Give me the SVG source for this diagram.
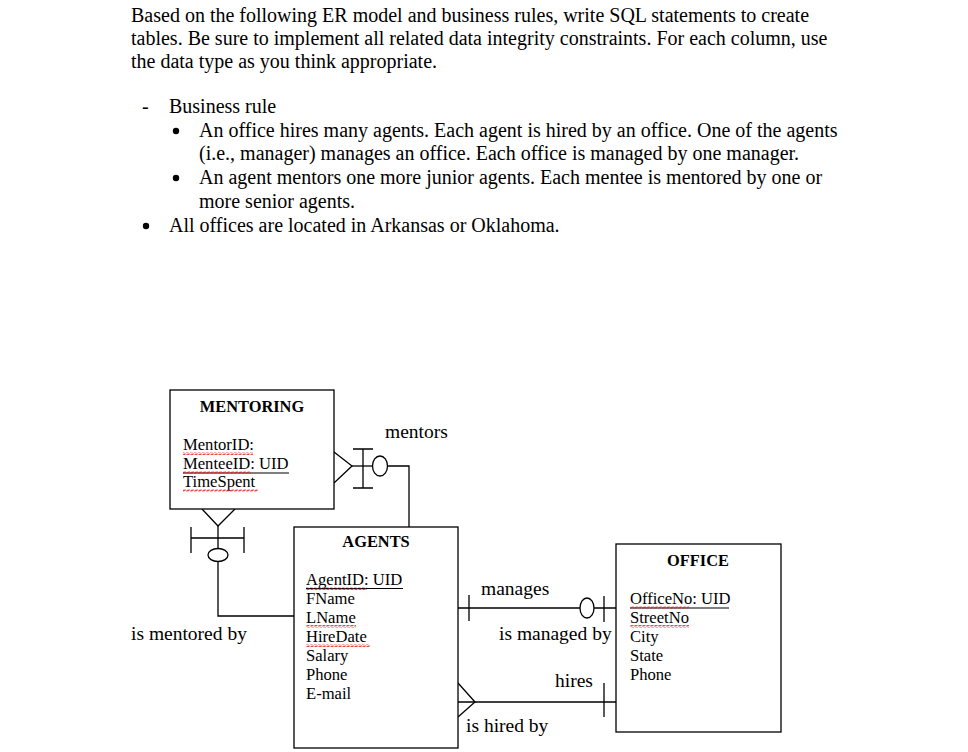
<svg xmlns="http://www.w3.org/2000/svg" width="968" height="752" viewBox="0 0 968 752">
<defs>
<style>
.t{font-family:"Liberation Serif","Times New Roman",serif;font-size:20px;fill:#000}
.lb{font-family:"Liberation Serif","Times New Roman",serif;font-size:19.5px;fill:#000}
.at{font-family:"Liberation Serif","Times New Roman",serif;font-size:16.6px;fill:#000}
.ti{font-family:"Liberation Serif","Times New Roman",serif;font-size:16.4px;font-weight:bold;fill:#000}
.box{fill:#fff;stroke:#000;stroke-width:1.3}
.ln{fill:none;stroke:#000;stroke-width:1.3}
.ul{stroke:#000;stroke-width:1.2}
.sq{fill:url(#wave)}
</style>
<pattern id="wave" x="0" y="0" width="4" height="3" patternUnits="userSpaceOnUse">
<path d="M0,2.5 L1,0.5 L3,2.5 L4,0.5" fill="none" stroke="#e02020" stroke-width="0.8"/>
</pattern>
</defs>
<rect width="968" height="752" fill="#fff"/>

<g id="text">
<text class="t" x="131" y="22">Based on the following ER model and business rules, write SQL statements to create</text>
<text class="t" x="131" y="45">tables. Be sure to implement all related data integrity constraints. For each column, use</text>
<text class="t" x="131" y="68">the data type as you think appropriate.</text>
<text class="t" x="142" y="113">-</text>
<text class="t" x="169" y="113">Business rule</text>
<circle cx="176" cy="131" r="3.2"/>
<text class="t" x="199" y="137">An office hires many agents. Each agent is hired by an office. One of the agents</text>
<text class="t" x="199" y="160">(i.e., manager) manages an office. Each office is managed by one manager.</text>
<circle cx="176" cy="178" r="3.2"/>
<text class="t" x="199" y="184">An agent mentors one more junior agents. Each mentee is mentored by one or</text>
<text class="t" x="199" y="208">more senior agents.</text>
<circle cx="146" cy="226" r="3.2"/>
<text class="t" x="169" y="232">All offices are located in Arkansas or Oklahoma.</text>
</g>

<g id="connectors">
<!-- mentors: MENTORING right -> AGENTS top -->
<path class="ln" d="M334,452 L352,466 L334,483"/>
<path class="ln" d="M352,466 L372.5,466"/>
<path class="ln" d="M363,449 V488 M353,449 H373 M353,488 H373"/>
<ellipse class="ln" cx="380" cy="466" rx="7.5" ry="10"/>
<path class="ln" d="M387.5,466 H409 V527"/>
<!-- is mentored by: MENTORING bottom -> AGENTS left -->
<path class="ln" d="M202,509 L218,526 L235,509"/>
<path class="ln" d="M218,526 V548.5"/>
<path class="ln" d="M191,538 H244 M191,527 V553 M244,527 V553"/>
<ellipse class="ln" cx="218" cy="555" rx="10" ry="6.5"/>
<path class="ln" d="M218,561.5 V616 H294"/>
<!-- manages -->
<path class="ln" d="M458,608 H580 M594,608 H616"/>
<path class="ln" d="M469,595 V621 M604,596 V622"/>
<ellipse class="ln" cx="587" cy="608" rx="7" ry="10"/>
<!-- hires -->
<path class="ln" d="M458,702 H616"/>
<path class="ln" d="M458,683 L475,702 L458,717"/>
<path class="ln" d="M604,683 V717"/>
</g>

<g id="labels">
<text class="lb" x="385" y="438">mentors</text>
<text class="lb" x="131" y="640">is mentored by</text>
<text class="lb" x="481" y="595">manages</text>
<text class="lb" x="499" y="640">is managed by</text>
<text class="lb" x="555" y="687">hires</text>
<text class="lb" x="466" y="732">is hired by</text>
</g>

<g id="mentoring">
<rect class="box" x="170" y="390" width="164" height="119"/>
<text class="ti" x="252" y="412" text-anchor="middle">MENTORING</text>
<text class="at" x="183" y="450">MentorID:</text>
<text class="at" x="183" y="469">MenteeID: UID</text>
<text class="at" x="183" y="487">TimeSpent</text>
<line class="ul" x1="183" y1="473" x2="289" y2="473"/>
<rect class="sq" x="183" y="452" width="70" height="3"/>
<rect class="sq" x="183" y="471" width="68" height="3"/>
<rect class="sq" x="183" y="489" width="75" height="3"/>
</g>

<g id="agents">
<rect class="box" x="294" y="527" width="164" height="221"/>
<text class="ti" x="376" y="547" text-anchor="middle">AGENTS</text>
<text class="at" x="306" y="585">AgentID: UID</text>
<text class="at" x="306" y="604">FName</text>
<text class="at" x="306" y="623">LName</text>
<text class="at" x="306" y="642">HireDate</text>
<text class="at" x="306" y="661">Salary</text>
<text class="at" x="306" y="680">Phone</text>
<text class="at" x="306" y="699">E-mail</text>
<line class="ul" x1="306" y1="588.5" x2="403" y2="588.5"/>
<rect class="sq" x="306" y="587" width="61" height="3"/>
<rect class="sq" x="306" y="625" width="50" height="3"/>
<rect class="sq" x="306" y="644" width="64" height="3"/>
</g>

<g id="office">
<rect class="box" x="616" y="544" width="165" height="188"/>
<text class="ti" x="698" y="566" text-anchor="middle">OFFICE</text>
<text class="at" x="630" y="604">OfficeNo: UID</text>
<text class="at" x="630" y="623">StreetNo</text>
<text class="at" x="630" y="642">City</text>
<text class="at" x="630" y="661">State</text>
<text class="at" x="630" y="680">Phone</text>
<line class="ul" x1="630" y1="608" x2="729" y2="608"/>
<rect class="sq" x="630" y="606" width="59" height="3"/>
<rect class="sq" x="630" y="625" width="59" height="3"/>
</g>
</svg>
